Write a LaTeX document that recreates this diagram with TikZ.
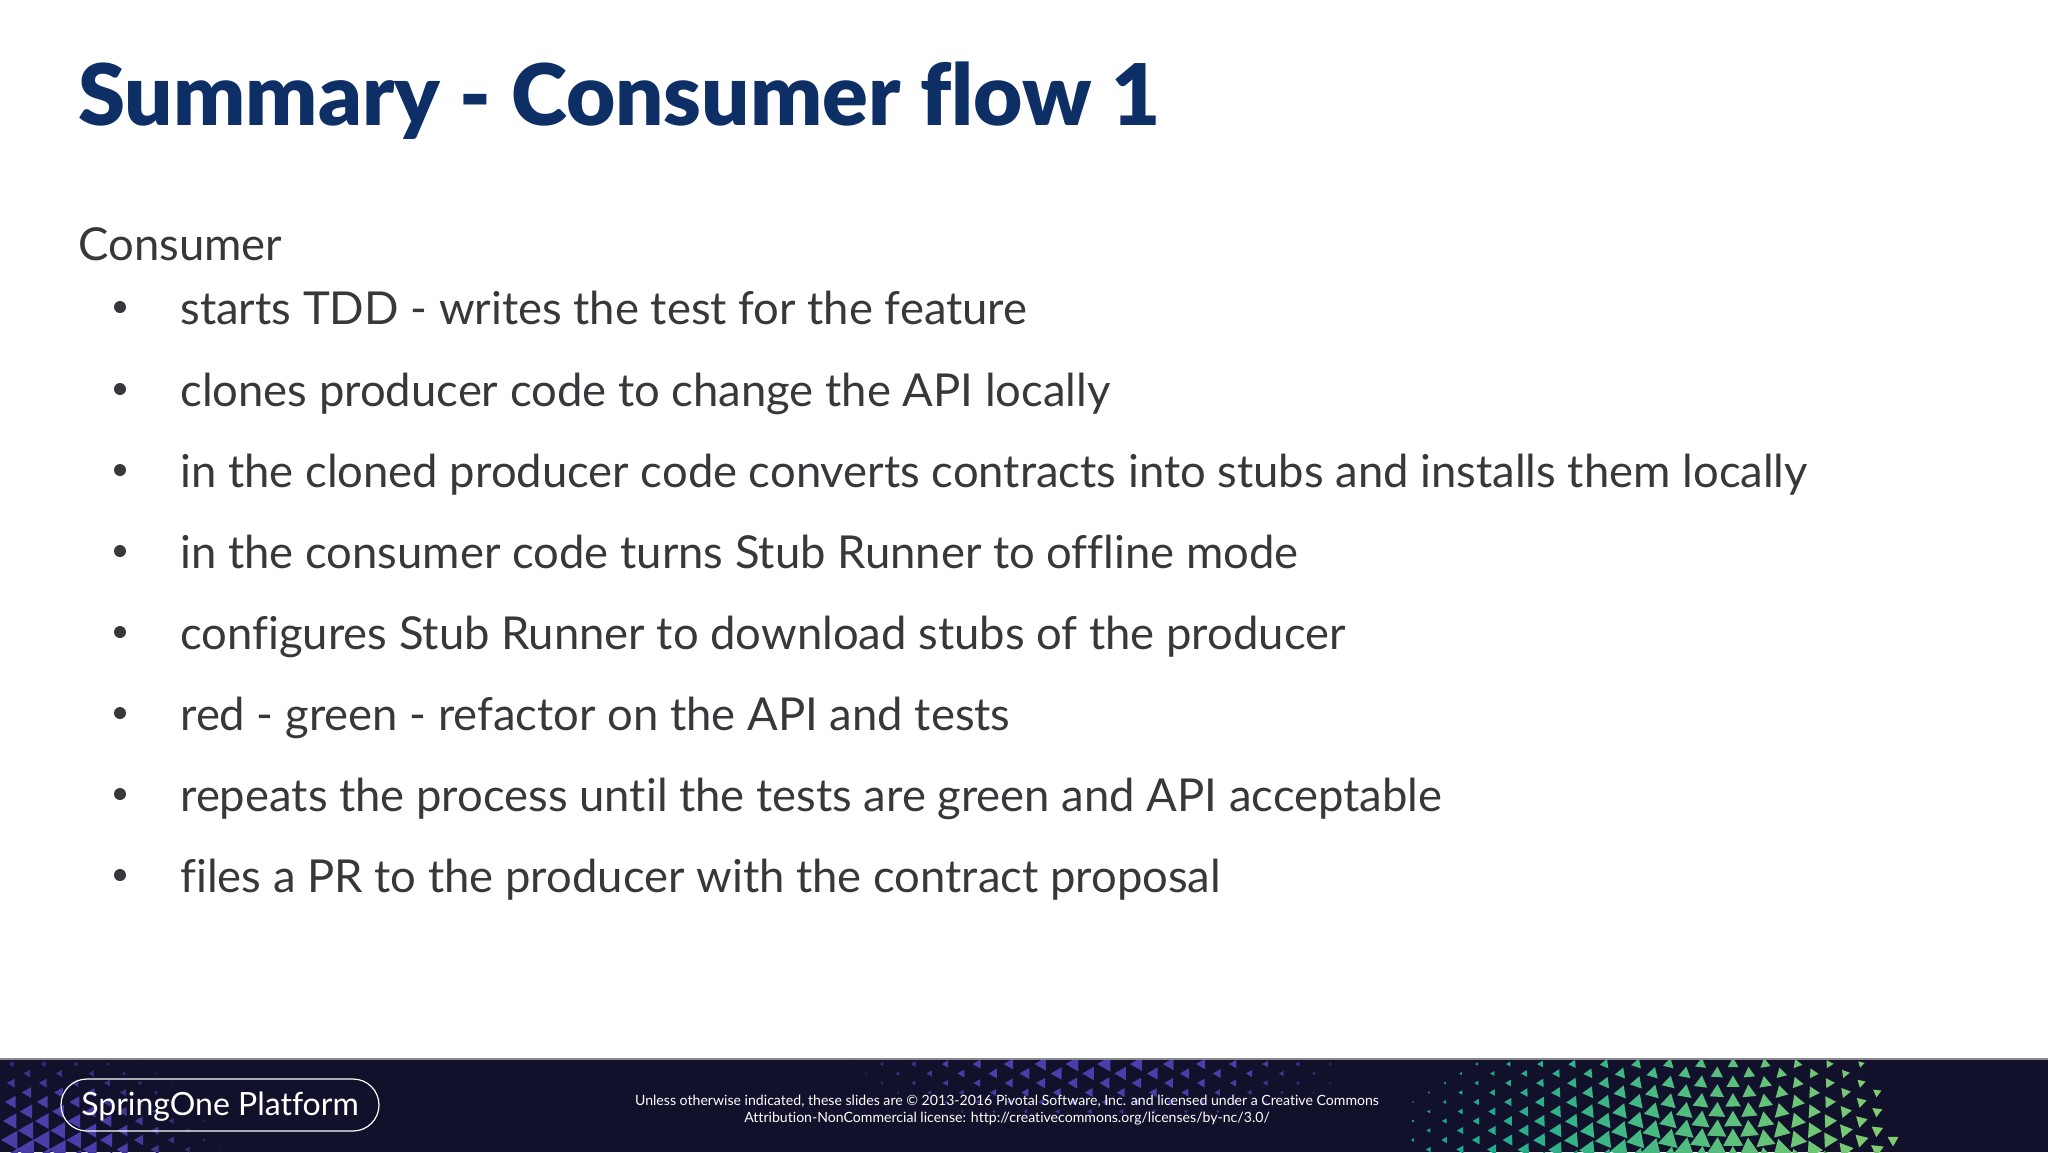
\documentclass[tikz,border=0pt]{standalone}
\usepackage{fontspec}
\setmainfont[Ligatures=CommonOff,BoldFont={Lato Black}]{Lato}
\usepackage{xcolor}
\usetikzlibrary{positioning}
\usetikzlibrary{calc}
\definecolor{TitleBlue}{HTML}{0E2F66}
\definecolor{BodyGray}{HTML}{36383B}
\definecolor{BandDark}{HTML}{12112B}
\definecolor{BandLine}{HTML}{8A8A90}
\definecolor{TriPurple}{HTML}{4A3FA8}
\definecolor{TriTeal}{HTML}{14A892}
\definecolor{TriGreen}{HTML}{84CC70}
\tikzset{
  SlideTitle/.style={
    anchor=base west, inner sep=0pt, text=TitleBlue,
    font=\bfseries\fontsize{42.5}{48}\selectfont,
  },
  SlideText/.style={
    anchor=base west, inner sep=0pt, text=BodyGray,
    font=\fontsize{22.7}{26}\selectfont,
  },
  LogoPill/.style={
    rectangle, rounded corners=13pt,
    minimum width=159pt, minimum height=26pt,
    inner sep=0pt, draw=white, line width=0.6pt,
    text height=12pt, text depth=2pt,
    text=white, font=\fontsize{16}{18}\selectfont,
  },
  FootNote/.style={
    inner sep=0pt, text=white, align=center,
    font=\fontsize{7.05}{8.4}\selectfont,
  },
}
\begin{document}
\begin{tikzpicture}[x=0.5pt,y=-0.5pt]
\useasboundingbox (0,0) rectangle (2048,1152);
\fill[white] (0,0) rectangle (2048,1152);
\fill[BandDark] (0,1059) rectangle (2048,1152);
\draw[BandLine,line width=0.8pt] (0,1059) -- (2048,1059);
\begin{scope}
\clip (0,1060) rectangle (2048,1152);
\foreach \Col in {0,...,30}
  \foreach \Row in {0,...,5} {
    \pgfmathsetmacro{\PosX}{1413+\Col*16}
    \pgfmathsetmacro{\PosY}{1064+\Row*19+mod(\Col,2)*9.5}
    \pgfmathsetmacro{\Size}{17*(1-veclen(\PosX-1700,(\PosY-1210)*1.5)/350)}
    \pgfmathsetmacro{\Mix}{min(100,max(0,(\PosX-1440)/4.5))}
    \pgfmathsetmacro{\Turn}{180-90*(\Mix/100)^2.5}
    \pgfmathparse{(\Size>0.8 && \PosX<1868+(\PosY-1062)*0.35) ? 1 : 0}
    \ifnum\pgfmathresult=1
      \fill[TriGreen!\Mix!TriTeal] ($(\PosX,\PosY)+(\Turn:\Size)$) -- ($(\PosX,\PosY)+(\Turn+120:\Size)$) -- ($(\PosX,\PosY)+(\Turn+240:\Size)$) -- cycle;
    \fi
  }
\foreach \Col in {0,...,32}
  \foreach \Row in {0,...,3} {
    \pgfmathsetmacro{\PosX}{818+\Col*16}
    \pgfmathsetmacro{\PosY}{1064+\Row*19+mod(\Col,2)*9.5}
    \pgfmathsetmacro{\Size}{9.5*(1-veclen((\PosX-1100)*0.8,(\PosY-1060)*3)/225)}
    \pgfmathsetmacro{\Mix}{min(100,40+\Size*13)}
    \pgfmathparse{\Size>0.7 ? 1 : 0}
    \ifnum\pgfmathresult=1
      \fill[TriPurple!\Mix!BandDark] ($(\PosX,\PosY)+(180:\Size)$) -- ($(\PosX,\PosY)+(300:\Size)$) -- ($(\PosX,\PosY)+(60:\Size)$) -- cycle;
    \fi
  }
\foreach \Col in {0,...,16}
  \foreach \Row in {0,...,5} {
    \pgfmathsetmacro{\PosX}{12+\Col*16}
    \pgfmathsetmacro{\PosY}{1064+\Row*19+mod(\Col,2)*9.5}
    \pgfmathsetmacro{\Size}{14*(1-veclen(\PosX-30,(\PosY-1170)*1.5)/210)}
    \pgfmathsetmacro{\Mix}{min(100,30+\Size*10)}
    \pgfmathparse{\Size>0.7 ? 1 : 0}
    \ifnum\pgfmathresult=1
      \fill[TriPurple!\Mix!BandDark] ($(\PosX,\PosY)+(180:\Size)$) -- ($(\PosX,\PosY)+(300:\Size)$) -- ($(\PosX,\PosY)+(60:\Size)$) -- cycle;
    \fi
  }
\end{scope}
\node[SlideTitle] (Title) at (78,125) {Summary - Consumer flow 1};
\node[SlideText] (Consumer) at (78,260) {Consumer};
\foreach \Row/\Line in {
  324/starts TDD - writes the test for the feature,
  406/clones producer code to change the API locally,
  487/in the cloned producer code converts contracts into stubs and installs them locally,
  568/in the consumer code turns Stub Runner to offline mode,
  649/configures Stub Runner to download stubs of the producer,
  730/red - green - refactor on the API and tests,
  811/repeats the process until the tests are green and API acceptable,
  892/files a PR to the producer with the contract proposal%
}{
  \node[SlideText] (Item\Row) at (180,\Row) {\Line};
  \fill[BodyGray] (120,\Row-17) circle (3pt);
}
\node[LogoPill] (Logo) at (220,1105) {SpringOne Platform};
\node[FootNote] (Licence) at (1007,1110) {Unless otherwise indicated, these slides are © 2013-2016 Pivotal Software, Inc. and licensed under a Creative Commons\\Attribution-NonCommercial license: http://creativecommons.org/licenses/by-nc/3.0/};
\end{tikzpicture}
\end{document}
